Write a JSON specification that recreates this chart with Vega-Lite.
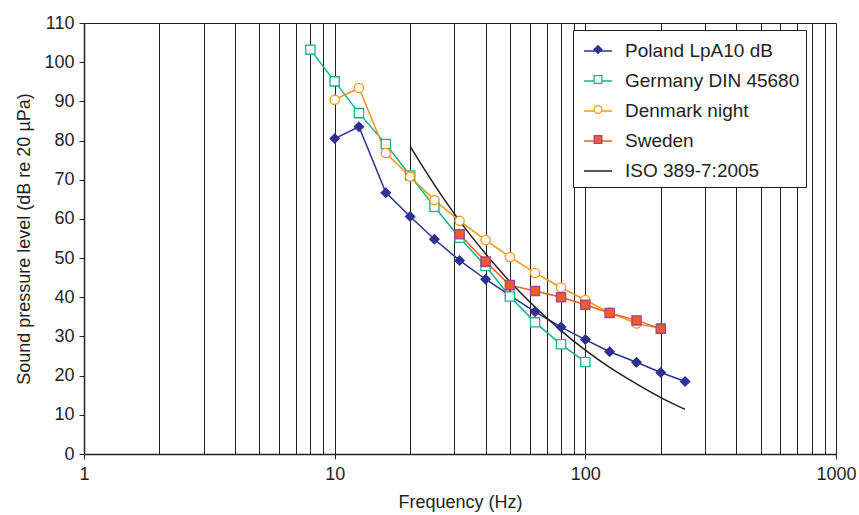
{
  "$schema": "https://vega.github.io/schema/vega-lite/v6.json",
  "width": 752,
  "height": 431,
  "autosize": {"type": "none"},
  "padding": {"left": 84, "top": 23, "right": 23, "bottom": 61},
  "background": "white",
  "config": {
    "font": "Liberation Sans",
    "view": {"stroke": "#231f20", "strokeWidth": 1},
    "axis": {
      "labelFont": "Liberation Sans",
      "titleFont": "Liberation Sans",
      "labelColor": "#231f20",
      "titleColor": "#231f20",
      "labelFontSize": 18,
      "titleFontSize": 18,
      "titleFontWeight": "normal",
      "domainColor": "#231f20",
      "tickColor": "#231f20",
      "domainWidth": 1.5
    }
  },
  "data": {
    "values": [
      {"series": "Poland LpA10 dB", "freq": 10, "spl": 80.5},
      {"series": "Poland LpA10 dB", "freq": 12.5, "spl": 83.5},
      {"series": "Poland LpA10 dB", "freq": 16, "spl": 66.7},
      {"series": "Poland LpA10 dB", "freq": 20, "spl": 60.6},
      {"series": "Poland LpA10 dB", "freq": 25, "spl": 54.8},
      {"series": "Poland LpA10 dB", "freq": 31.5, "spl": 49.4},
      {"series": "Poland LpA10 dB", "freq": 40, "spl": 44.6},
      {"series": "Poland LpA10 dB", "freq": 50, "spl": 40.5},
      {"series": "Poland LpA10 dB", "freq": 63, "spl": 36.3},
      {"series": "Poland LpA10 dB", "freq": 80, "spl": 32.4},
      {"series": "Poland LpA10 dB", "freq": 100, "spl": 29.2},
      {"series": "Poland LpA10 dB", "freq": 125, "spl": 26.1},
      {"series": "Poland LpA10 dB", "freq": 160, "spl": 23.4},
      {"series": "Poland LpA10 dB", "freq": 200, "spl": 20.8},
      {"series": "Poland LpA10 dB", "freq": 250, "spl": 18.5},
      {"series": "Germany DIN 45680", "freq": 8, "spl": 103.2},
      {"series": "Germany DIN 45680", "freq": 10, "spl": 95.1},
      {"series": "Germany DIN 45680", "freq": 12.5, "spl": 87},
      {"series": "Germany DIN 45680", "freq": 16, "spl": 79.1},
      {"series": "Germany DIN 45680", "freq": 20, "spl": 71.1},
      {"series": "Germany DIN 45680", "freq": 25, "spl": 63.1},
      {"series": "Germany DIN 45680", "freq": 31.5, "spl": 55.2},
      {"series": "Germany DIN 45680", "freq": 40, "spl": 48},
      {"series": "Germany DIN 45680", "freq": 50, "spl": 40.2},
      {"series": "Germany DIN 45680", "freq": 63, "spl": 33.6},
      {"series": "Germany DIN 45680", "freq": 80, "spl": 28},
      {"series": "Germany DIN 45680", "freq": 100, "spl": 23.5},
      {"series": "Denmark night", "freq": 10, "spl": 90.4},
      {"series": "Denmark night", "freq": 12.5, "spl": 93.4},
      {"series": "Denmark night", "freq": 16, "spl": 76.8},
      {"series": "Denmark night", "freq": 20, "spl": 70.8},
      {"series": "Denmark night", "freq": 25, "spl": 64.8},
      {"series": "Denmark night", "freq": 31.5, "spl": 59.5},
      {"series": "Denmark night", "freq": 40, "spl": 54.6},
      {"series": "Denmark night", "freq": 50, "spl": 50.3},
      {"series": "Denmark night", "freq": 63, "spl": 46.2},
      {"series": "Denmark night", "freq": 80, "spl": 42.5},
      {"series": "Denmark night", "freq": 100, "spl": 39.3},
      {"series": "Denmark night", "freq": 125, "spl": 36.1},
      {"series": "Denmark night", "freq": 160, "spl": 33.3},
      {"series": "Denmark night", "freq": 200, "spl": 32},
      {"series": "Sweden", "freq": 31.5, "spl": 56.1},
      {"series": "Sweden", "freq": 40, "spl": 49.1},
      {"series": "Sweden", "freq": 50, "spl": 43.1},
      {"series": "Sweden", "freq": 63, "spl": 41.6},
      {"series": "Sweden", "freq": 80, "spl": 40},
      {"series": "Sweden", "freq": 100, "spl": 38.1},
      {"series": "Sweden", "freq": 125, "spl": 36},
      {"series": "Sweden", "freq": 160, "spl": 34.1},
      {"series": "Sweden", "freq": 200, "spl": 32},
      {"series": "ISO 389-7:2005", "freq": 20, "spl": 78.5},
      {"series": "ISO 389-7:2005", "freq": 25, "spl": 68.7},
      {"series": "ISO 389-7:2005", "freq": 31.5, "spl": 59.5},
      {"series": "ISO 389-7:2005", "freq": 40, "spl": 51.1},
      {"series": "ISO 389-7:2005", "freq": 50, "spl": 44},
      {"series": "ISO 389-7:2005", "freq": 63, "spl": 37.5},
      {"series": "ISO 389-7:2005", "freq": 80, "spl": 31.5},
      {"series": "ISO 389-7:2005", "freq": 100, "spl": 26.5},
      {"series": "ISO 389-7:2005", "freq": 125, "spl": 22.1},
      {"series": "ISO 389-7:2005", "freq": 160, "spl": 17.9},
      {"series": "ISO 389-7:2005", "freq": 200, "spl": 14.4},
      {"series": "ISO 389-7:2005", "freq": 250, "spl": 11.4}
    ]
  },
  "layer": [
    {
      "transform": [{"filter": "datum.series !== 'ISO 389-7:2005'"}],
      "mark": {"type": "line", "strokeWidth": 1.5},
      "encoding": {
        "x": {
          "field": "freq", "type": "quantitative",
          "scale": {"type": "log", "domain": [1, 1000]},
          "axis": {
            "orient": "bottom",
            "values": [2,3,4,5,6,7,8,9,10,20,30,40,50,60,70,80,90,100,200,300,400,500,600,700,800,900],
            "grid": true, "gridColor": "#231f20", "gridOpacity": 1, "gridWidth": 1,
            "labels": false, "ticks": false, "domain": false, "title": null
          }
        },
        "y": {
          "field": "spl", "type": "quantitative",
          "scale": {"domain": [0, 110], "nice": false},
          "axis": {
            "values": [0,10,20,30,40,50,60,70,80,90,100,110],
            "grid": false, "tickSize": 5, "labelPadding": 5, "labelOverlap": false,
            "title": "Sound pressure level (dB re 20 µPa)", "titlePadding": 10
          }
        },
        "color": {
          "field": "series", "type": "nominal",
          "scale": {
            "domain": ["Poland LpA10 dB", "Germany DIN 45680", "Denmark night", "Sweden", "ISO 389-7:2005"],
            "range": ["#2e3192", "#17b08a", "#f7941d", "#f15a29", "#231f20"]
          },
          "legend": {
            "title": null,
            "orient": "none",
            "legendX": 489,
            "legendY": 7,
            "padding": 6,
            "strokeColor": "#231f20",
            "fillColor": "white",
            "labelFont": "Liberation Sans",
            "labelFontSize": 19,
            "labelColor": "#231f20",
            "labelLimit": 300,
            "labelOffset": 12,
            "symbolOffset": 4,
            "rowPadding": 5,
            "symbolSize": 784,
            "symbolStrokeWidth": 1.5
          }
        }
      }
    },
    {
      "transform": [{"filter": "datum.series === 'ISO 389-7:2005'"}],
      "mark": {"type": "line", "strokeWidth": 1.5, "interpolate": "monotone"},
      "encoding": {
        "x": {"field": "freq", "type": "quantitative", "scale": {"type": "log", "domain": [1, 1000]}, "axis": null},
        "y": {
          "field": "spl", "type": "quantitative",
          "scale": {"domain": [0, 110], "nice": false},
          "axis": {
            "values": [0,10,20,30,40,50,60,70,80,90,100,110],
            "grid": false, "tickSize": 5, "labelPadding": 5, "labelOverlap": false,
            "title": "Sound pressure level (dB re 20 µPa)", "titlePadding": 10
          }
        },
        "color": {"field": "series", "type": "nominal"}
      }
    },
    {
      "transform": [{"filter": "datum.series !== 'ISO 389-7:2005'"}],
      "mark": {"type": "point", "size": 85, "strokeWidth": 1.3, "opacity": 1},
      "encoding": {
        "x": {
          "field": "freq", "type": "quantitative",
          "scale": {"type": "log", "domain": [1, 1000]},
          "axis": {
            "orient": "bottom",
            "values": [1, 10, 100, 1000], "format": "d",
            "grid": false, "tickSize": 5, "labelPadding": 6,
            "labelFlush": false, "labelOverlap": false,
            "title": "Frequency (Hz)", "titlePadding": 10
          }
        },
        "y": {
          "field": "spl", "type": "quantitative",
          "scale": {"domain": [0, 110], "nice": false},
          "axis": {
            "values": [0,10,20,30,40,50,60,70,80,90,100,110],
            "grid": false, "tickSize": 5, "labelPadding": 5, "labelOverlap": false,
            "title": "Sound pressure level (dB re 20 µPa)", "titlePadding": 10
          }
        },
        "shape": {
          "field": "series", "type": "nominal",
          "scale": {
            "domain": ["Poland LpA10 dB", "Germany DIN 45680", "Denmark night", "Sweden"],
            "range": ["diamond", "square", "circle", "square"]
          },
          "legend": {
            "title": null, "orient": "none", "legendX": 489, "legendY": 15.5, "padding": 6,
            "labelFont": "Liberation Sans", "labelFontSize": 1, "labelOpacity": 0, "labelExpr": "''",
            "labelOffset": 0, "symbolOffset": 14, "rowPadding": 16, "symbolSize": 60, "symbolStrokeWidth": 1.3
          }
        },
        "fill": {
          "field": "series", "type": "nominal",
          "scale": {
            "domain": ["Poland LpA10 dB", "Germany DIN 45680", "Denmark night", "Sweden"],
            "range": ["#2e3192", "white", "white", "#f15a29"]
          },
          "legend": {
            "title": null, "orient": "none", "legendX": 489, "legendY": 15.5, "padding": 6,
            "labelFont": "Liberation Sans", "labelFontSize": 1, "labelOpacity": 0, "labelExpr": "''",
            "labelOffset": 0, "symbolOffset": 14, "rowPadding": 16, "symbolSize": 60, "symbolStrokeWidth": 1.3
          }
        },
        "stroke": {
          "field": "series", "type": "nominal",
          "scale": {
            "domain": ["Poland LpA10 dB", "Germany DIN 45680", "Denmark night", "Sweden"],
            "range": ["#2e3192", "#17b08a", "#f7941d", "#a0468f"]
          },
          "legend": {
            "title": null, "orient": "none", "legendX": 489, "legendY": 15.5, "padding": 6,
            "labelFont": "Liberation Sans", "labelFontSize": 1, "labelOpacity": 0, "labelExpr": "''",
            "labelOffset": 0, "symbolOffset": 14, "rowPadding": 16, "symbolSize": 60, "symbolStrokeWidth": 1.3
          }
        }
      }
    }
  ],
  "resolve": {"axis": {"x": "independent"}}
}
